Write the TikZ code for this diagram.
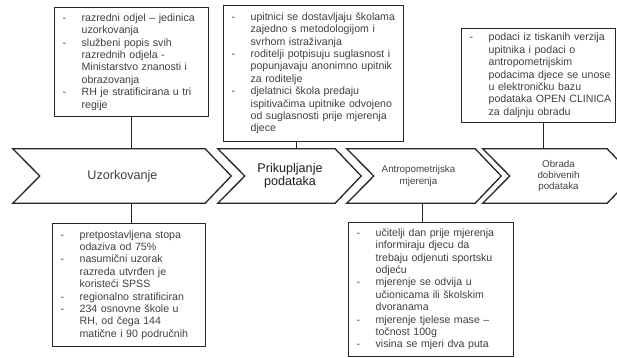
\documentclass[tikz,border=0pt]{standalone}
\usepackage{fontspec}
\setmainfont{Liberation Sans}
\definecolor{FlowInk}{HTML}{262626}
\definecolor{FlowText}{HTML}{404040}
\definecolor{FlowDark}{HTML}{1E1E1E}

\begin{document}
\begin{tikzpicture}[x=1pt,y=-1pt,
    infobox/.style={draw=FlowInk,line width=1.3pt,fill=white,anchor=north west,
      inner xsep=8pt,inner ysep=0pt,align=left,text=FlowText,
      font=\fontsize{10.6}{12.4}\selectfont},
    chevbody/.style={inner sep=0pt,minimum height=54pt,align=center,text=FlowText},
    chevline/.style={draw=FlowInk,line width=1.3pt,line join=miter},
    link/.style={draw=FlowInk,line width=1.1pt}]
  \useasboundingbox (0,0) rectangle (617,357);
  \clip (0,0) rectangle (617,357);

  % process steps, the node is the body between notch and tip
  \node[chevbody,minimum width=165pt,font=\fontsize{12.6}{13.5}\selectfont]
    (uzorak) at (122.5,176) {Uzorkovanje};
  \node[chevbody,minimum width=90pt,text=FlowDark,font=\fontsize{12.6}{13}\selectfont]
    (prikup) at (290,176) {Prikupljanje\\podataka};
  \node[chevbody,minimum width=101pt,font=\fontsize{9.8}{11.2}\selectfont]
    (antrop) at (424.5,176) {\hspace*{-12pt}Antropometrijska\\\hspace*{-12pt}mjerenja};
  \node[chevbody,minimum width=97pt,font=\fontsize{9.8}{11.2}\selectfont]
    (obrada) at (558.5,176) {Obrada\\dobivenih\\podataka};
  \foreach \ch in {uzorak,prikup,antrop,obrada}{
    \draw[chevline] ([xshift=-27pt]\ch.north west) -- (\ch.north east)
      -- ([xshift=26pt]\ch.east) -- (\ch.south east)
      -- ([xshift=-27pt]\ch.south west) -- (\ch.west) -- cycle;
  }

  % notes above
  \node[infobox,text width=138pt,minimum height=109pt] (odjel) at (54,7)
    {\begin{tabular}{@{}p{19pt}@{}l@{}}
      - & razredni odjel -- jedinica\\
        & uzorkovanja\\
      - & službeni popis svih\\
        & razrednih odjela -\\
        & Ministarstvo znanosti i\\
        & obrazovanja\\
      - & RH je stratificirana u tri\\
        & regije
     \end{tabular}};
  \node[infobox,text width=164pt,minimum height=136pt] (upitnik) at (223,5)
    {\begin{tabular}{@{}p{19pt}@{}l@{}}
      - & upitnici se dostavljaju školama\\
        & zajedno s metodologijom i\\
        & svrhom istraživanja\\
      - & roditelji potpisuju suglasnost i\\
        & popunjavaju anonimno upitnik\\
        & za roditelje\\
      - & djelatnici škola predaju\\
        & ispitivačima upitnike odvojeno\\
        & od suglasnosti prije mjerenja\\
        & djece
     \end{tabular}};
  \node[infobox,text width=138pt,minimum height=94pt] (baza) at (461,28)
    {\begin{tabular}{@{}p{19pt}@{}l@{}}
      - & podaci iz tiskanih verzija\\
        & upitnika i podaci o\\
        & antropometrijskim\\
        & podacima djece se unose\\
        & u elektroničku bazu\\
        & podataka OPEN CLINICA\\
        & za daljnju obradu
     \end{tabular}};

  % notes below
  \node[infobox,text width=137pt,minimum height=123pt] (odaziv) at (52,223)
    {\begin{tabular}{@{}p{19pt}@{}l@{}}
      - & pretpostavljena stopa\\
        & odaziva od 75\%\\
      - & nasumični uzorak\\
        & razreda utvrđen je\\
        & koristeći SPSS\\
      - & regionalno stratificiran\\
      - & 234 osnovne škole u\\
        & RH, od čega 144\\
        & matične i 90 područnih
     \end{tabular}};
  \node[infobox,text width=149pt,minimum height=134pt] (mjerenje) at (348,222)
    {\begin{tabular}{@{}p{19pt}@{}l@{}}
      - & učitelji dan prije mjerenja\\
        & informiraju djecu da\\
        & trebaju odjenuti sportsku\\
        & odjeću\\
      - & mjerenje se odvija u\\
        & učionicama ili školskim\\
        & dvoranama\\
      - & mjerenje tjelese mase --\\
        & točnost 100g\\
      - & visina se mjeri dva puta
     \end{tabular}};

  % links between notes and steps
  \draw[link] (odjel.south) -- (odjel.south |- uzorak.north);
  \draw[link] ([xshift=-17pt]upitnik.south) -- ([xshift=-17pt]upitnik.south |- prikup.north);
  \draw[link] ([xshift=5pt]baza.south) -- ([xshift=5pt]baza.south |- obrada.north);
  \draw[link] ([xshift=2pt]odaziv.north) -- ([xshift=2pt]odaziv.north |- uzorak.south);
  \draw[link] ([xshift=-9pt]mjerenje.north) -- ([xshift=-9pt]mjerenje.north |- antrop.south);
\end{tikzpicture}
\end{document}
